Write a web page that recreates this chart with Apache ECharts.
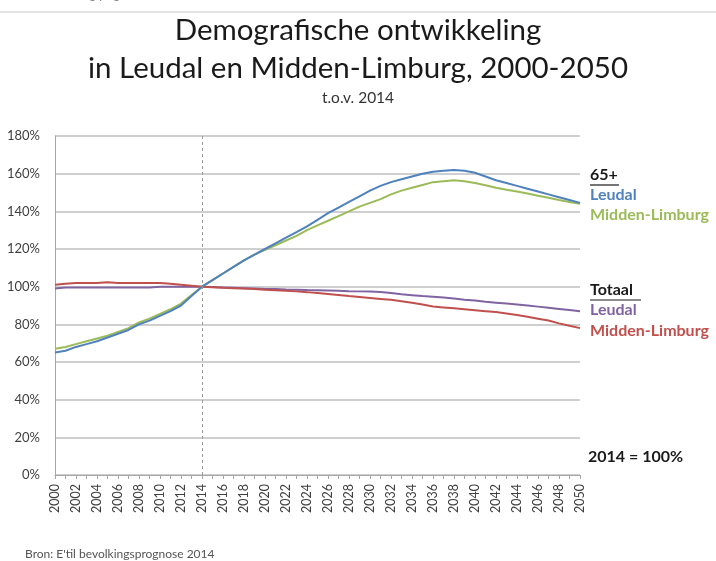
<!DOCTYPE html>
<html>
<head>
<meta charset="utf-8">
<script src="https://cdn.jsdelivr.net/npm/echarts@6/dist/echarts.min.js"></script>
<style>html,body{margin:0;padding:0;background:#fff}#c{width:716px;height:561px}</style>
</head>
<body>
<div id="c"></div>
<script>
var years = [];
for (var y = 2000; y <= 2050; y++) years.push(String(y));

var leudal65 = [65,66,68,69.5,71,73,75,77,80,82,84.5,87,90,95,100,103.5,107,110.5,114,117,120,123,126,129,132,135.5,139,142,145,148,151,153.5,155.5,157,158.5,160,161,161.5,162,161.5,160.5,158.5,156.5,155,153.5,152,150.5,149,147.5,146,144.5];
var midden65 = [67,68,69.5,71,72.5,74,76,78,81,83,85.5,88,91,95.5,100,103.5,107,110.5,114,117,119.5,122,124.5,127,130,132.5,135,137.5,140,142.5,144.5,146.5,149,151,152.5,154,155.5,156,156.5,156,155,153.8,152.5,151.5,150.5,149.5,148.3,147.2,146,145,144];
var leudalTot = [99,99.5,99.5,99.5,99.5,99.5,99.5,99.5,99.5,99.5,100,100,100,100,100,99.8,99.6,99.4,99.2,99,98.8,98.7,98.5,98.4,98.2,98.1,98,97.8,97.6,97.5,97.4,97.2,96.6,96,95.5,95,94.7,94.2,93.7,93.1,92.6,92,91.5,91,90.5,90,89.4,88.8,88.2,87.6,87];
var middenTot = [101,101.5,102,102,102,102.3,102,102,102,102,102,101.5,101,100.5,100,99.7,99.4,99.2,99,98.7,98.4,98.1,97.8,97.5,97.1,96.6,96.1,95.6,95,94.5,94,93.5,93,92.3,91.5,90.5,89.5,89,88.5,88,87.5,87,86.5,85.8,85,84,83,82,80.5,79.3,78];

var FONT = 'Lato';
var chart = echarts.init(document.getElementById('c'));
function line(name, data, color) {
  return { name: name, type: 'line', data: data, symbol: 'none', smooth: false,
    lineStyle: { color: color, width: 2 }, itemStyle: { color: color } };
}
var s1 = line('Totaal Leudal', leudalTot, '#8064a2');
s1.markLine = { silent: true, symbol: 'none', label: { show: false },
  lineStyle: { color: '#999', type: [3, 3], width: 1 },
  data: [{ xAxis: '2014' }] };
var series = [s1, line('Totaal Midden-Limburg', middenTot, '#c0504d'),
  line('65+ Midden-Limburg', midden65, '#9bbb59'), line('65+ Leudal', leudal65, '#4f81bd')];

var LBL = { fontFamily: FONT, fontSize: 16, fontWeight: 'bold' };
function lbl(text, x, y, color) {
  return { type: 'text', left: x, top: y, style: Object.assign({ text: text, fill: color }, LBL) };
}

var option = {
  animation: false,
  backgroundColor: '#fff',
  grid: { left: 55, right: 136, top: 136, bottom: 86 },
  xAxis: {
    type: 'category', data: years, boundaryGap: false,
    axisLine: { lineStyle: { color: '#a6a6a6' } },
    axisTick: { show: true, interval: 0, length: 4, lineStyle: { color: '#a6a6a6' } },
    axisLabel: { interval: 1, rotate: 90, color: '#404040', fontFamily: FONT, fontSize: 12.5, margin: 9 },
    splitLine: { show: false }
  },
  yAxis: {
    type: 'value', min: 0, max: 180, interval: 20,
    axisLine: { show: true, lineStyle: { color: '#a6a6a6' } },
    axisTick: { show: false },
    axisLabel: { formatter: '{value}%', color: '#404040', fontFamily: FONT, fontSize: 13, margin: 15 },
    splitLine: { lineStyle: { color: '#bfbfbf', width: 1.5 } }
  },
  series: series,
  graphic: [
    { type: 'text', left: 'center', top: 15, style: { text: 'Demografische ontwikkeling', fontFamily: FONT, fontSize: 29.5, fill: '#1a1a1a' } },
    { type: 'text', left: 'center', top: 53, style: { text: 'in Leudal en Midden-Limburg, 2000-2050', fontFamily: FONT, fontSize: 29.5, fill: '#1a1a1a' } },
    { type: 'text', left: 'center', top: 90, style: { text: 't.o.v. 2014', fontFamily: FONT, fontSize: 15.5, fill: '#333' } },
    { type: 'text', left: 8, top: -9, style: { text: "Bron: E'til bevolkingsprognose 2014", fontFamily: FONT, fontSize: 10, fill: '#666' } },
    { type: 'line', shape: { x1: 0, y1: 12, x2: 716, y2: 12 }, style: { stroke: '#e3e3e3', lineWidth: 2 } },
    lbl('65+', 590, 167, '#1a1a1a'),
    { type: 'line', shape: { x1: 590, y1: 185, x2: 619, y2: 185 }, style: { stroke: '#1a1a1a', lineWidth: 1.2 } },
    lbl('Leudal', 590, 187, '#4f81bd'),
    lbl('Midden-Limburg', 590, 207, '#9bbb59'),
    lbl('Totaal', 590, 282, '#1a1a1a'),
    { type: 'line', shape: { x1: 590, y1: 300, x2: 641, y2: 300 }, style: { stroke: '#1a1a1a', lineWidth: 1.2 } },
    lbl('Leudal', 590, 302, '#8064a2'),
    lbl('Midden-Limburg', 590, 323, '#c0504d'),
    lbl('2014 = 100%', 588, 449, '#1a1a1a'),
    { type: 'text', left: 25, top: 548, style: { text: "Bron: E'til bevolkingsprognose 2014", fontFamily: FONT, fontSize: 12, fill: '#555' } }
  ]
};
chart.setOption(option);
</script>
</body>
</html>
